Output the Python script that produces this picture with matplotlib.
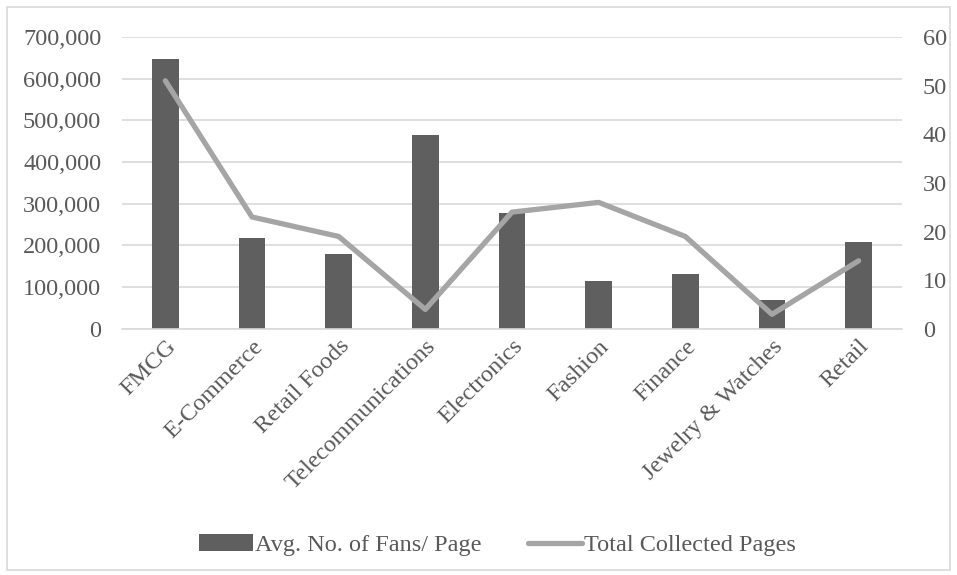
import matplotlib
matplotlib.use('Agg')
from matplotlib import pyplot as plt
from matplotlib.patches import Rectangle
import numpy as np

plt.rcParams['font.family'] = ['Liberation Serif', 'DejaVu Serif']

categories = ['FMCG', 'E-Commerce', 'Retail Foods', 'Telecommunications', 'Electronics',
              'Fashion', 'Finance', 'Jewelry & Watches', 'Retail']
avg_fans = [647000, 218000, 180000, 465000, 278000, 115000, 132000, 70000, 209000]
total_pages = [51, 23, 19, 4, 24, 26, 19, 3, 14]

text_col = '#595959'
grid_col = '#d9d9d9'
fs = 17.5

fig = plt.figure(figsize=(9.57, 5.75), dpi=100)
ax = fig.add_axes([0.1275, 0.428, 0.815, 0.5077])
ax2 = ax.twinx()

x = np.arange(len(categories))
bars = ax.bar(x, avg_fans, width=0.31, color='#5f5f5f', label='Avg. No. of Fans/ Page', zorder=2)
line, = ax2.plot(x, total_pages, color='#a5a5a5', linewidth=3.8, solid_capstyle='round',
                 label='Total Collected Pages', zorder=3)

ax.set_xlim(-0.5, len(categories) - 0.5)
ax.set_ylim(0, 700000)
ax.set_yticks(np.arange(0, 700001, 100000))
ax.set_yticklabels([f'{v:,}' for v in range(0, 700001, 100000)])
ax2.set_ylim(0, 60)
ax2.set_yticks(np.arange(0, 61, 10))

ax.set_xticks(x)
ax.set_xticklabels(categories, rotation=45, ha='right', rotation_mode='anchor')

ax.grid(axis='y', color=grid_col, linewidth=1.2, zorder=0)
ax.set_axisbelow(True)
for a in (ax, ax2):
    for s in a.spines.values():
        s.set_visible(False)
    a.tick_params(length=0, labelsize=fs, colors=text_col)
ax.tick_params(axis='y', pad=15)
ax2.tick_params(axis='y', pad=15)
ax.tick_params(axis='x', pad=5)
ax.spines['bottom'].set_visible(True)
ax.spines['bottom'].set_color(grid_col)
ax.spines['bottom'].set_linewidth(1.2)

fig.legend([bars, line], ['Avg. No. of Fans/ Page', 'Total Collected Pages'],
           loc='center', bbox_to_anchor=(0.52, 0.052), ncol=2, frameon=False,
           fontsize=fs, labelcolor=text_col, handlelength=2.2, handletextpad=0.1,
           columnspacing=1.9)

fig.patches.append(Rectangle((0.007, 0.008), 0.986, 0.98, transform=fig.transFigure,
                             fill=False, edgecolor=grid_col, linewidth=1.2))

plt.savefig('out.png', dpi=100)
